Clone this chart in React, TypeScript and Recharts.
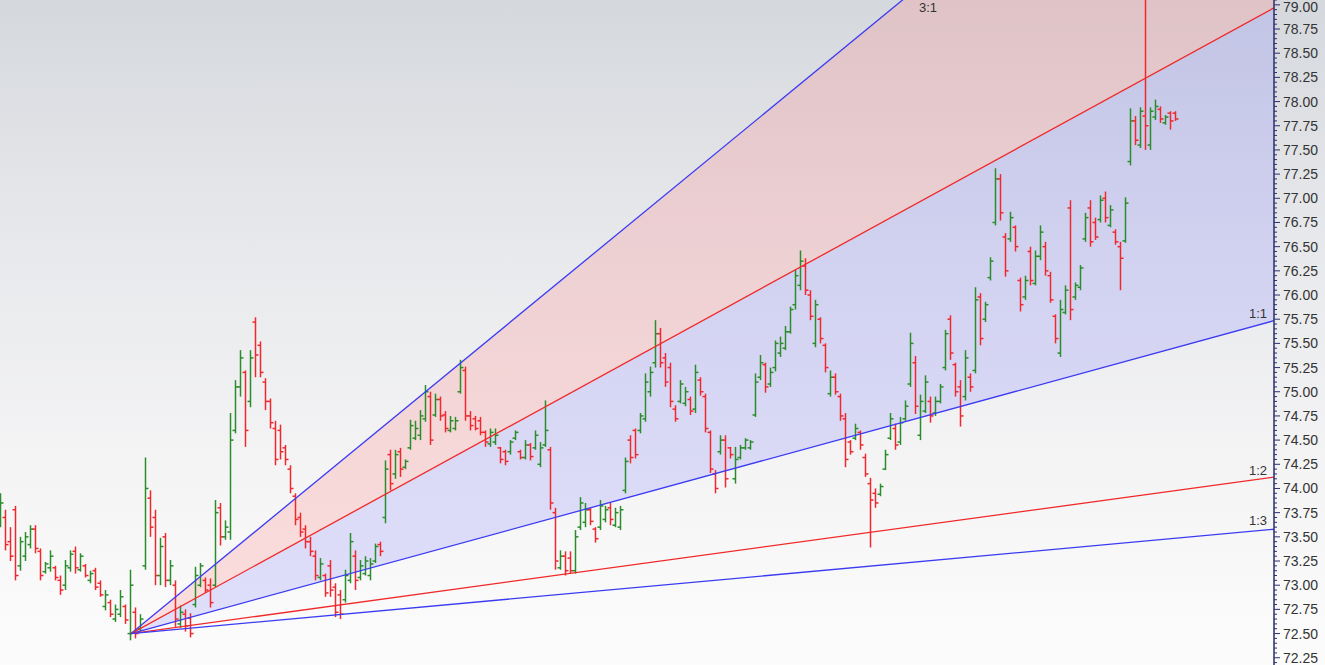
import React from "react";
import { ComposedChart, Bar, Line, Area, XAxis, YAxis, ReferenceDot } from "recharts";

// daily OHLC bars left to right
const HIGH = [
  73.95, 73.78, 73.6, 73.82, 73.5, 73.55, 73.62, 73.62, 73.38, 73.24,
  73.36, 73.2, 73.1, 73.26, 73.36, 73.4, 73.33, 73.22, 73.15, 73.18,
  73.05, 72.95, 72.85, 72.8, 72.95, 72.8, 73.16, 72.77, 72.7, 74.32,
  73.98, 73.78, 73.49, 73.54, 73.26, 73.05, 72.79, 72.75, 72.71, 73.19,
  73.23, 73.08, 73.07, 73.88, 73.85, 73.67, 74.78, 75.12, 75.43, 75.22,
  75.43, 75.77, 75.52, 75.14, 74.93, 74.7, 74.66, 74.45, 74.24, 73.95,
  73.75, 73.62, 73.5, 73.36, 73.28, 73.12, 73.26, 73.02, 72.95, 73.16,
  73.54, 73.36, 73.26, 73.3, 73.28, 73.43, 73.45, 74.29, 74.4, 74.4,
  74.42, 74.3, 74.71, 74.7, 74.81, 75.07, 75.0, 74.98, 74.95, 74.8,
  74.75, 74.74, 75.33, 75.26, 74.8, 74.75, 74.74, 74.6, 74.62, 74.62,
  74.43, 74.4, 74.5, 74.6, 74.4, 74.5, 74.47, 74.6, 74.48, 74.91,
  74.43, 73.8, 73.36, 73.35, 73.35, 73.57, 73.91, 73.85, 73.8, 73.6,
  73.88, 73.82, 73.85, 73.8, 73.82, 74.32, 74.55, 74.62, 74.78, 75.19,
  75.26, 75.74, 75.66, 75.4, 75.3, 74.86, 75.12, 75.05, 74.95, 75.28,
  75.15, 74.98, 74.6, 74.19, 74.55, 74.55, 74.43, 74.43, 74.45, 74.52,
  74.5, 75.19, 75.38, 75.3, 75.25, 75.53, 75.57, 75.68, 75.88, 76.26,
  76.46, 76.38, 76.05, 75.95, 75.77, 75.5, 75.22, 75.19, 74.98, 74.78,
  74.5, 74.67, 74.6, 74.36, 74.11, 74.0, 74.05, 74.4, 74.78, 74.67,
  74.74, 74.91, 75.61, 75.37, 74.97, 75.17, 74.95, 74.95, 75.08, 75.64,
  75.79, 75.3, 75.12, 75.43, 75.19, 76.08, 76.02, 75.93, 76.39, 77.31,
  77.25, 76.64, 76.86, 76.72, 76.18, 76.2, 76.5, 76.46, 76.72, 76.55,
  76.24, 75.8, 75.95, 76.1, 76.98, 76.13, 76.31, 76.85, 76.98, 76.8,
  77.03, 77.07, 76.93, 76.68, 76.55, 77.01, 77.93, 77.85, 77.94, 79.05,
  77.94, 78.02, 77.95, 77.86, 77.9, 77.9,
];
const LOW = [
  73.6, 73.36, 73.25, 73.05, 73.15, 73.25, 73.38, 73.33, 73.05, 73.12,
  73.14, 73.05, 72.9, 72.95, 73.14, 73.12, 73.14, 73.08, 73.02, 72.95,
  72.88, 72.74, 72.67, 72.62, 72.67, 72.6, 72.43, 72.45, 72.52, 73.16,
  73.5, 73.0, 73.0, 72.98, 73.0, 72.57, 72.56, 72.52, 72.46, 72.77,
  72.98, 72.92, 72.77, 72.98, 73.41, 73.47, 73.47, 74.57, 74.95, 74.43,
  74.84, 75.15, 75.15, 74.81, 74.62, 74.24, 74.3, 74.24, 73.95, 73.62,
  73.5, 73.38, 73.3, 73.05, 73.05, 72.88, 72.88, 72.67, 72.65, 72.82,
  73.02, 72.95, 73.05, 73.1, 73.05, 73.23, 73.3, 73.64, 73.98, 74.1,
  74.12, 74.2, 74.4, 74.5, 74.5, 74.69, 74.45, 74.74, 74.7, 74.58,
  74.58, 74.6, 74.98, 74.7, 74.6, 74.6, 74.55, 74.43, 74.43, 74.45,
  74.26, 74.24, 74.35, 74.5, 74.3, 74.3, 74.29, 74.4, 74.22, 74.43,
  73.78, 73.16, 73.16, 73.1, 73.12, 73.12, 73.57, 73.6, 73.62, 73.44,
  73.57, 73.65, 73.62, 73.6, 73.57, 73.95, 74.26, 74.31, 74.57, 74.69,
  74.95, 75.25, 75.25, 75.05, 74.84, 74.69, 74.88, 74.85, 74.76, 74.78,
  74.96, 74.58, 74.16, 73.95, 74.35, 74.01, 74.31, 74.05, 74.3, 74.4,
  74.4, 74.74, 75.12, 74.99, 75.05, 75.21, 75.36, 75.43, 75.6, 75.85,
  76.05, 76.0, 75.74, 75.46, 75.5, 75.2, 74.95, 74.97, 74.7, 74.22,
  74.35, 74.5, 74.4, 74.12, 73.39, 73.8, 73.92, 74.19, 74.5, 74.4,
  74.45, 74.7, 75.05, 74.77, 74.5, 74.78, 74.68, 74.75, 74.88, 75.22,
  75.33, 74.95, 74.64, 74.91, 75.0, 75.19, 75.48, 75.72, 76.15, 76.72,
  76.77, 76.19, 76.55, 76.45, 75.83, 75.95, 76.1, 76.1, 76.36, 76.2,
  75.92, 75.5, 75.36, 75.8, 75.74, 75.95, 76.05, 76.55, 76.5, 76.57,
  76.75, 76.75, 76.7, 76.52, 76.05, 76.54, 77.34, 77.55, 77.52, 77.5,
  77.5, 77.81, 77.78, 77.76, 77.71, 77.8,
];
const OPEN = [
  73.65, 73.7, 73.45, 73.78, 73.2, 73.3, 73.42, 73.58, 73.35, 73.14,
  73.18, 73.18, 73.05, 73.0, 73.18, 73.35, 73.16, 73.2, 73.05, 73.15,
  73.02, 72.78, 72.82, 72.65, 72.7, 72.78, 72.5, 72.72, 72.55, 73.2,
  73.9, 73.7, 73.1, 73.5, 73.05, 73.0, 72.6, 72.7, 72.66, 72.8,
  73.0, 73.05, 73.0, 73.0, 73.8, 73.5, 73.55, 74.6, 75.05, 75.2,
  74.9, 75.72, 75.48, 75.1, 74.9, 74.62, 74.6, 74.42, 74.2, 73.92,
  73.7, 73.58, 73.45, 73.3, 73.08, 73.1, 73.2, 72.98, 72.9, 72.85,
  73.05, 73.3, 73.08, 73.12, 73.1, 73.25, 73.42, 73.7, 74.35, 74.15,
  74.38, 74.22, 74.42, 74.52, 74.55, 74.72, 74.95, 74.76, 74.92, 74.76,
  74.6, 74.62, 75.0, 75.22, 74.75, 74.72, 74.7, 74.58, 74.46, 74.48,
  74.42, 74.38, 74.38, 74.52, 74.38, 74.32, 74.45, 74.42, 74.25, 74.45,
  74.4, 73.75, 73.18, 73.3, 73.28, 73.15, 73.6, 73.65, 73.78, 73.58,
  73.6, 73.68, 73.8, 73.62, 73.6, 73.98, 74.5, 74.6, 74.6, 74.72,
  75.0, 75.3, 75.6, 75.35, 75.25, 74.82, 74.9, 74.88, 74.92, 74.82,
  75.12, 74.95, 74.58, 74.15, 74.38, 74.5, 74.42, 74.1, 74.32, 74.42,
  74.42, 74.76, 75.15, 75.28, 75.08, 75.25, 75.4, 75.45, 75.62, 75.9,
  76.1, 76.3, 76.0, 75.5, 75.75, 75.48, 74.98, 75.15, 74.95, 74.72,
  74.48, 74.52, 74.58, 74.32, 74.05, 73.95, 73.94, 74.2, 74.52, 74.62,
  74.48, 74.72, 75.08, 75.3, 74.55, 74.8, 74.9, 74.78, 74.9, 75.25,
  75.75, 75.28, 75.05, 74.95, 75.15, 75.22, 75.98, 75.75, 76.18, 76.75,
  77.2, 76.6, 76.58, 76.7, 76.15, 75.98, 76.45, 76.12, 76.4, 76.5,
  76.2, 75.78, 75.4, 75.82, 76.9, 75.98, 76.08, 76.58, 76.9, 76.75,
  76.78, 77.0, 76.72, 76.65, 76.5, 76.56, 77.38, 77.8, 77.55, 77.85,
  77.55, 77.84, 77.92, 77.78, 77.88, 77.88,
];
const CLOSE = [
  73.85, 73.42, 73.3, 73.1, 73.45, 73.5, 73.58, 73.38, 73.1, 73.22,
  73.3, 73.08, 72.95, 73.2, 73.32, 73.18, 73.3, 73.1, 73.12, 72.98,
  72.9, 72.9, 72.7, 72.75, 72.88, 72.64, 73.0, 72.5, 72.65, 74.0,
  73.6, 73.1, 73.4, 73.05, 73.2, 72.65, 72.72, 72.58, 72.5, 73.1,
  73.2, 72.95, 72.82, 73.75, 73.5, 73.6, 74.5, 75.05, 75.35, 74.6,
  75.35, 75.38, 75.2, 74.9, 74.68, 74.3, 74.38, 74.3, 74.0, 73.68,
  73.55, 73.45, 73.35, 73.1, 73.22, 72.92, 72.95, 72.72, 72.7, 73.1,
  73.45, 73.05, 73.2, 73.25, 73.22, 73.4, 73.35, 74.2, 74.05, 74.35,
  74.2, 74.28, 74.65, 74.62, 74.75, 75.0, 74.5, 74.92, 74.75, 74.62,
  74.7, 74.7, 75.25, 74.75, 74.65, 74.62, 74.58, 74.48, 74.58, 74.55,
  74.3, 74.28, 74.48, 74.58, 74.32, 74.45, 74.33, 74.55, 74.42, 74.6,
  73.85, 73.25, 73.3, 73.15, 73.15, 73.5, 73.85, 73.78, 73.66, 73.48,
  73.82, 73.78, 73.68, 73.75, 73.78, 74.28, 74.32, 74.35, 74.75, 75.1,
  75.2, 75.6, 75.3, 75.1, 74.9, 74.72, 75.08, 75.0, 74.8, 75.2,
  75.0, 74.62, 74.2, 74.0, 74.5, 74.1, 74.35, 74.3, 74.42, 74.5,
  74.48, 75.1, 75.3, 75.05, 75.2, 75.5, 75.5, 75.62, 75.85, 76.2,
  76.35, 76.05, 75.78, 75.9, 75.55, 75.25, 75.15, 75.0, 74.75, 74.3,
  74.38, 74.62, 74.45, 74.15, 73.88, 73.85, 74.02, 74.35, 74.72, 74.45,
  74.68, 74.85, 75.5, 74.85, 74.9, 75.1, 74.75, 74.9, 75.05, 75.6,
  75.4, 75.0, 74.75, 75.35, 75.05, 75.95, 75.55, 75.9, 76.35, 77.2,
  76.85, 76.25, 76.8, 76.5, 75.9, 76.15, 76.15, 76.4, 76.65, 76.25,
  75.95, 75.55, 75.85, 76.05, 75.85, 76.1, 76.28, 76.8, 76.55, 76.6,
  76.98, 76.8, 76.88, 76.55, 76.38, 76.95, 77.8, 77.6, 77.9, 77.75,
  77.9, 77.95, 77.82, 77.84, 77.8, 77.82,
];

// Gann fan: anchored on the swing low, 1x1 rises this much per bar
const FAN_START_BAR = 26;
const FAN_START_PRICE = 72.5;
const FAN_END_BAR = 254.6;
const ONE_BY_ONE = 0.01415;
const FAN_RATIOS = [3, 2, 1, 0.5, 1 / 3];
const FAN_COLORS = ["#3b3bf2", "#f02a2a", "#3b3bf2", "#f02a2a", "#3b3bf2"];
const FAN_LABELS = [
  { text: "3:1", bar: 185.4, price: 78.97 },
  { text: "1:1", bar: 251.4, price: 75.81 },
  { text: "1:2", bar: 251.4, price: 74.19 },
  { text: "1:3", bar: 251.4, price: 73.67 },
];

const Y_LABELS = [
  72.25, 72.5, 72.75, 73, 73.25, 73.5, 73.75, 74, 74.25, 74.5, 74.75, 75, 75.25, 75.5,
  75.75, 76, 76.25, 76.5, 76.75, 77, 77.25, 77.5, 77.75, 78, 78.25, 78.5, 78.75, 79,
];

const GREEN = "#2a8c2a";
const RED = "#f0282d";
const AXIS = "#2b2f6b";
const FONT = "'Liberation Sans', Arial, sans-serif";

const bars = HIGH.map((h, i) => ({ i, high: h, low: LOW[i], open: OPEN[i], close: CLOSE[i] }));

const fanAt = (ratio: number, bar: number) =>
  FAN_START_PRICE + ratio * ONE_BY_ONE * (bar - FAN_START_BAR);

const fanLine = (ratio: number) => [
  { i: FAN_START_BAR, v: FAN_START_PRICE },
  { i: FAN_END_BAR, v: fanAt(ratio, FAN_END_BAR) },
];

const fanBand = (lo: number, hi: number) => [
  { i: FAN_START_BAR, range: [FAN_START_PRICE, FAN_START_PRICE] },
  { i: FAN_END_BAR, range: [fanAt(lo, FAN_END_BAR), fanAt(hi, FAN_END_BAR)] },
];

// every 0.05 gets a small tick, every 0.25 a label
const yTicks = [72.2, ...Y_LABELS.flatMap((m) => [m, m + 0.05, m + 0.1, m + 0.15, m + 0.2])]
  .filter((v) => v <= 79.05)
  .map((v) => Math.round(v * 100) / 100);

function OhlcBar(props: any) {
  const { x, y, width, height, payload } = props;
  if (!payload || x == null || y == null) return null;
  const top = Math.min(y, y + height);
  const bottom = Math.max(y, y + height);
  const span = payload.high - payload.low || 1;
  const toY = (v: number) => top + ((payload.high - v) / span) * (bottom - top);
  const cx = x + width / 2;
  const color = payload.close >= payload.open ? GREEN : RED;
  const yo = toY(payload.open);
  const yc = toY(payload.close);
  return (
    <g stroke={color} strokeWidth={1.5}>
      <line x1={cx} x2={cx} y1={top} y2={bottom} />
      <line x1={cx - 3} x2={cx} y1={yo} y2={yo} />
      <line x1={cx} x2={cx + 3} y1={yc} y2={yc} />
    </g>
  );
}

function PriceTick(props: any) {
  const { x, y, payload } = props;
  const v = payload.value;
  const major = Math.round(v * 100) % 25 === 0;
  // keep the top label inside the picture
  const ty = Math.max(y, 7);
  return (
    <g>
      <line x1={x} x2={x + (major ? 6 : 3)} y1={y} y2={y} stroke={AXIS} strokeWidth={1} />
      {major && (
        <text x={x + 9} y={ty} dy={5} fontSize={14} fill="#333" fontFamily={FONT}>
          {v.toFixed(2)}
        </text>
      )}
    </g>
  );
}

export default function App() {
  return (
    <div
      style={{
        position: "absolute",
        left: 0,
        top: 0,
        width: 1325,
        height: 665,
        background: "linear-gradient(180deg, #d5d8dd 0%, #e7e8eb 35%, #f4f4f5 70%, #fcfcfc 100%)",
      }}
    >
      <ComposedChart
        width={1325}
        height={665}
        data={bars}
        margin={{ top: 0, right: 0, bottom: 0, left: 0 }}
      >
        <XAxis dataKey="i" type="number" domain={[-0.2, 254.6]} allowDataOverflow hide />
        <YAxis
          orientation="right"
          width={51}
          type="number"
          domain={[72.175, 79.05]}
          allowDataOverflow
          ticks={yTicks}
          interval={0}
          tickSize={0}
          tickMargin={0}
          tickLine={false}
          axisLine={{ stroke: AXIS, strokeWidth: 1.5 }}
          tick={<PriceTick />}
        />

        <Area
          data={fanBand(2, 3)}
          dataKey="range"
          type="linear"
          stroke="none"
          fill="#ff8080"
          fillOpacity={0.24}
          dot={false}
          activeDot={false}
          isAnimationActive={false}
        />
        <Area
          data={fanBand(1, 2)}
          dataKey="range"
          type="linear"
          stroke="none"
          fill="#8080ff"
          fillOpacity={0.22}
          dot={false}
          activeDot={false}
          isAnimationActive={false}
        />

        {FAN_RATIOS.map((r, k) => (
          <Line
            key={k}
            data={fanLine(r)}
            dataKey="v"
            type="linear"
            stroke={FAN_COLORS[k]}
            strokeWidth={1.3}
            dot={false}
            activeDot={false}
            isAnimationActive={false}
          />
        ))}

        <Bar
          dataKey={(d: any) => [d.low, d.high]}
          barSize={4}
          shape={(p: any) => <OhlcBar {...p} />}
          activeBar={false}
          isAnimationActive={false}
        />

        {FAN_LABELS.map((l) => (
          <ReferenceDot
            key={l.text}
            x={l.bar}
            y={l.price}
            r={0}
            fill="none"
            stroke="none"
            label={{ value: l.text, position: "center", fill: "#333", fontSize: 13, fontFamily: FONT }}
          />
        ))}
      </ComposedChart>
    </div>
  );
}
